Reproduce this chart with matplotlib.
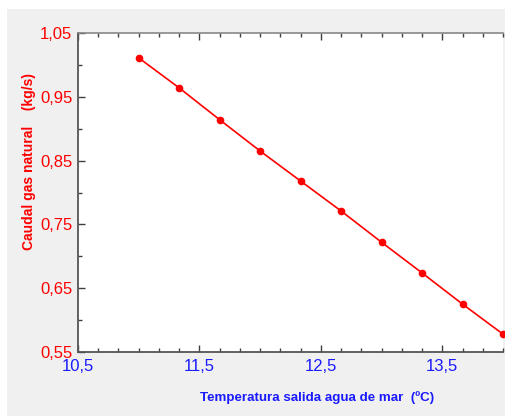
import numpy as np
import matplotlib.pyplot as plt
from matplotlib.ticker import MultipleLocator, FuncFormatter

# data
temp_salida = [11.0, 11.333, 11.667, 12.0, 12.333, 12.667, 13.0, 13.333, 13.667, 14.0]
caudal_gas = [1.011, 0.964, 0.914, 0.865, 0.818, 0.771, 0.722, 0.674, 0.625, 0.578]
xticks = [10.5, 11.5, 12.5, 13.5]
yticks = [0.55, 0.65, 0.75, 0.85, 0.95, 1.05]

RED = '#ff0000'
BLUE = '#1a1aff'

plt.rcParams['font.family'] = ['Liberation Sans', 'DejaVu Sans']

W, H = 505, 416
fig = plt.figure(figsize=(W / 100, H / 100), dpi=100)
fig.patch.set_facecolor('white')

# grey panel behind the chart
fig.patches.append(plt.Rectangle((7 / W, 0), 1, 1 - 9 / H, transform=fig.transFigure,
                                 facecolor='#f0f0f0', edgecolor='none', zorder=-10))

ax = fig.add_axes([78 / W, 1 - 352 / H, 425 / W, (352 - 33) / H])
ax.set_facecolor('white')

ax.plot(temp_salida, caudal_gas, color=RED, lw=1.2, marker='o', ms=4.5,
        clip_on=False, zorder=5)

ax.set_xlim(10.5, 14.0)
ax.set_ylim(0.55, 1.05)
ax.set_xticks(xticks)
ax.set_yticks(yticks)
ax.xaxis.set_minor_locator(MultipleLocator(1 / 6))
ax.yaxis.set_minor_locator(MultipleLocator(0.05))

ax.xaxis.set_major_formatter(FuncFormatter(lambda v, p: ('%.1f' % v).replace('.', ',')))
ax.yaxis.set_major_formatter(FuncFormatter(lambda v, p: ('%.2f' % v).replace('.', ',')))

ax.tick_params(axis='both', which='both', direction='in', top=True, right=False,
               color='#404040', width=1)
ax.tick_params(axis='both', which='major', length=5, labelsize=12)
ax.tick_params(axis='both', which='minor', length=3)
ax.tick_params(axis='x', which='major', pad=5, labelcolor=BLUE)
ax.tick_params(axis='y', which='major', pad=4, labelcolor=RED)

for s in ['left', 'bottom']:
    ax.spines[s].set_color('#555555')
    ax.spines[s].set_linewidth(1.3)
ax.spines['top'].set_color('#888888')
ax.spines['top'].set_linewidth(1.2)
ax.spines['right'].set_visible(False)

fig.text(317 / W, 1 - 398 / H, 'Temperatura salida agua de mar  (ºC)', color=BLUE,
         fontsize=9.6, fontweight='bold', ha='center', va='center')
fig.text(29 / W, 1 - 162 / H, 'Caudal gas natural    (kg/s)', color=RED,
         fontsize=10, fontweight='bold', ha='center', va='center', rotation=90)

fig.savefig('out.png', dpi=100)
